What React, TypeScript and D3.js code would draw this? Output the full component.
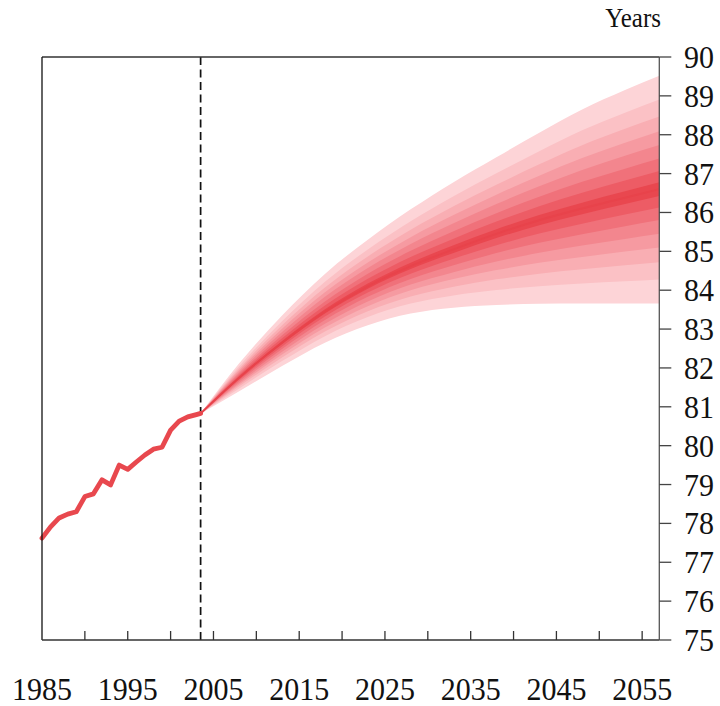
import React from "react";
import * as d3 from "d3";

// Historical life expectancy (years)
const HIST_YEARS = [1985, 1986, 1987, 1988, 1989, 1990, 1991, 1992, 1993, 1994, 1995, 1996, 1997, 1998, 1999, 2000, 2001, 2002, 2003, 2003.5];
const HIST_VALUES = [77.62, 77.91, 78.14, 78.24, 78.3, 78.69, 78.76, 79.12, 78.99, 79.5, 79.39, 79.58, 79.76, 79.91, 79.96, 80.4, 80.63, 80.74, 80.8, 80.83];

// Projection fan
const FAN_YEARS = [2003.5, 2008, 2013, 2018, 2023, 2028, 2033, 2038, 2043, 2048, 2053, 2057];
const FAN_MEDIAN = [80.83, 81.75, 82.65, 83.45, 84.1, 84.62, 85.05, 85.45, 85.8, 86.1, 86.38, 86.6];
const FAN_UPPER = [80.83, 82.12, 83.35, 84.42, 85.3, 86.08, 86.78, 87.42, 88.05, 88.65, 89.15, 89.52];
const FAN_LOWER = [80.83, 81.4, 82.05, 82.65, 83.1, 83.4, 83.55, 83.62, 83.65, 83.66, 83.66, 83.66];
// relative position of each band edge between median and outer bound (inner -> outer)
const BAND_FRACTIONS = [0.06, 0.16, 0.27, 0.39, 0.51, 0.64, 0.79, 1.0];
const BAND_COLORS = ["#e9474f", "#ed5c65", "#f0717a", "#f3868e", "#f69aa1", "#f9aeb3", "#fbc1c5", "#fdd4d7"];

const FORECAST_START = 2003.5;
const Y_TICKS = d3.range(75, 91);
const X_TICKS = d3.range(1990, 2056, 5);
const X_LABELS = [1985, 1995, 2005, 2015, 2025, 2035, 2045, 2055];
const Y_UNIT = "Years";

const FONT = '"Liberation Serif", "Times New Roman", serif';

export default function App() {
  const x = d3.scaleLinear().domain([1985, 2057]).range([42, 659.3]);
  const y = d3.scaleLinear().domain([75, 90]).range([640, 57]);
  const left = x(1985);
  const right = x(2057);
  const top = y(90);
  const bottom = y(75);

  const bands = BAND_FRACTIONS.map((f, i) => {
    const pts = FAN_YEARS.map((yr, j) => ({
      yr,
      lo: FAN_MEDIAN[j] - f * (FAN_MEDIAN[j] - FAN_LOWER[j]),
      hi: FAN_MEDIAN[j] + f * (FAN_UPPER[j] - FAN_MEDIAN[j]),
    }));
    const area = d3
      .area<any>()
      .x((d) => x(d.yr))
      .y0((d) => y(d.lo))
      .y1((d) => y(d.hi))
      .curve(d3.curveMonotoneX);
    return { d: area(pts) as string, color: BAND_COLORS[i] };
  });

  const medianLine = d3
    .line<number>()
    .x((_, j) => x(FAN_YEARS[j]))
    .y((v) => y(v))
    .curve(d3.curveMonotoneX)(FAN_MEDIAN) as string;

  const histLine = d3
    .line<number>()
    .x((_, j) => x(HIST_YEARS[j]))
    .y((v) => y(v))(HIST_VALUES) as string;

  const axisColor = "#333";
  const stretch = "scale(1,1.08)";

  return (
    <svg
      width={720}
      height={706}
      style={{ position: "absolute", left: 0, top: 0, background: "#fff" }}
      fontFamily={FONT}
    >
      {/* fan, outermost first */}
      {bands
        .slice()
        .reverse()
        .map((b, i) => (
          <path key={i} d={b.d} fill={b.color} stroke="none" />
        ))}
      <path d={medianLine} fill="none" stroke="#e8434b" strokeWidth={2} />

      {/* forecast start */}
      <line
        x1={x(FORECAST_START)}
        x2={x(FORECAST_START)}
        y1={top}
        y2={bottom}
        stroke="#111"
        strokeWidth={1.7}
        strokeDasharray="8,4.5"
      />

      {/* history */}
      <path
        d={histLine}
        fill="none"
        stroke="#e8484e"
        strokeWidth={4.8}
        strokeLinejoin="round"
        strokeLinecap="round"
      />

      {/* frame */}
      <line x1={left} x2={right} y1={top} y2={top} stroke={axisColor} strokeWidth={1.3} />
      <line x1={left} x2={left} y1={top} y2={bottom} stroke="#111" strokeWidth={1.3} />
      <line x1={left} x2={right} y1={bottom} y2={bottom} stroke={axisColor} strokeWidth={1.3} />
      <line x1={right} x2={right} y1={top} y2={bottom} stroke="#555" strokeWidth={1.3} />

      {/* right axis */}
      {Y_TICKS.map((t) => (
        <g key={t}>
          <line x1={right} x2={right + 12} y1={y(t)} y2={y(t)} stroke="#444" strokeWidth={1.3} />
          <text transform={`translate(684,${y(t) + 11}) ${stretch}`} fontSize={30} fill="#111">
            {t}
          </text>
        </g>
      ))}
      <text transform={`translate(661,27) ${stretch}`} fontSize={25} textAnchor="end" fill="#111">
        {Y_UNIT}
      </text>

      {/* bottom axis */}
      {X_TICKS.map((t) => (
        <line key={t} x1={x(t)} x2={x(t)} y1={bottom} y2={bottom - 9} stroke={axisColor} strokeWidth={1.3} />
      ))}
      {X_LABELS.map((t) => (
        <text key={t} transform={`translate(${x(t)},700) ${stretch}`} fontSize={30} textAnchor="middle" fill="#111">
          {t}
        </text>
      ))}
    </svg>
  );
}
